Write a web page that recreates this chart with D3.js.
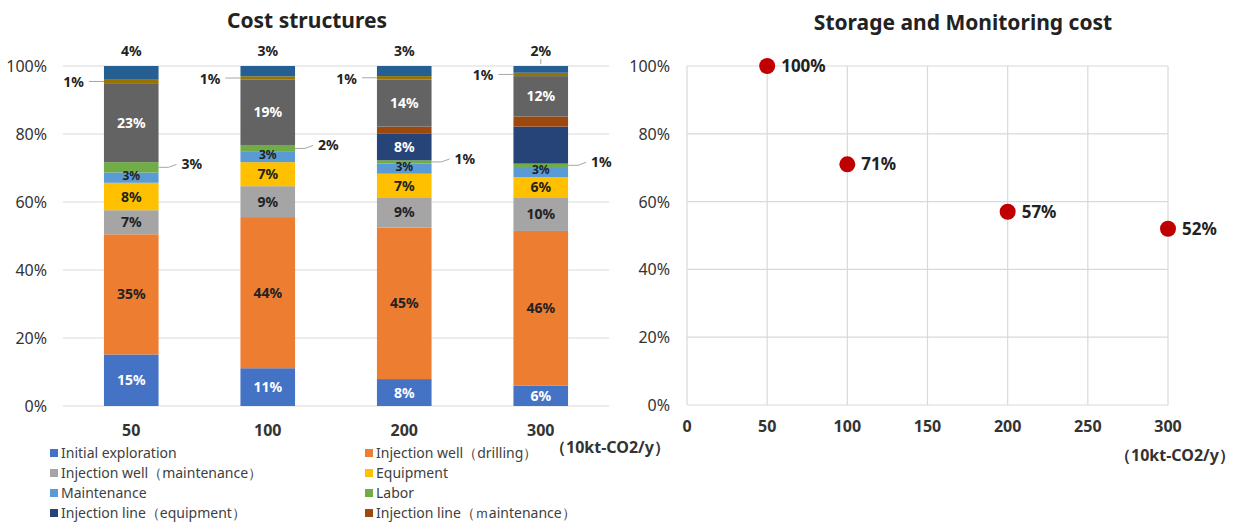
<!DOCTYPE html>
<html>
<head>
<meta charset="utf-8">
<script src="https://cdn.jsdelivr.net/npm/d3@7.9.0/dist/d3.min.js"></script>
<style>
  body { margin: 0; background: #fff; }
  svg { display: block; font-family: "Noto Sans", sans-serif; }
</style>
</head>
<body>
<svg id="chart" width="1242" height="522"></svg>
<script>
// cost structure data (share in %, bottom -> top)
const categories = ['50', '100', '200', '300'];
const seriesNames = [
  'Initial exploration', 'Injection well（drilling）', 'Injection well（maintenance）', 'Equipment',
  'Maintenance', 'Labor', 'Injection line（equipment）', 'Injection line（ｍaintenance）',
  'Other A', 'Other B', 'Other C'
];
const seriesColors = ['#4472C4', '#ED7D31', '#A5A5A5', '#FFC000', '#5B9BD5', '#70AD47',
  '#264478', '#9E480E', '#636363', '#997300', '#255E91'];
const values50 = [15, 35, 7, 8, 3, 3, 0, 0, 23, 1, 4];
const values100 = [11, 44, 9, 7, 3, 2, 0, 0, 19, 1, 3];
const values200 = [8, 45, 9, 7, 3, 1, 8, 2, 14, 1, 3];
const values300 = [6, 46, 10, 6, 3, 1, 11, 3, 12, 1, 2];
const hiddenLabels = [['200', 7], ['300', 6], ['300', 7]];
const legendCount = 8;
const yTicks = [0, 0.2, 0.4, 0.6, 0.8, 1];

// storage and monitoring cost
const scaleX = [50, 100, 200, 300];
const relCost = [100, 71, 57, 52];
const xTicks = [0, 50, 100, 150, 200, 250, 300];

const svg = d3.select('#chart');
const valueRows = [values50, values100, values200, values300];
const rows = categories.map((c, i) => {
  let r = { cat: c };
  seriesNames.forEach((s, j) => { r[j] = valueRows[i][j]; });
  return r;
});

// ---------- left: cost structures ----------
const x = d3.scaleBand().domain(categories).range([63, 609]).paddingInner(0.6).paddingOuter(0.3);
const y = d3.scaleLinear().domain([0, 1]).range([406, 66]);

svg.append('text').attr('x', 307).attr('y', 28).attr('text-anchor', 'middle')
  .attr('font-size', 21).attr('font-weight', 'bold').attr('fill', '#222').text('Cost structures');

svg.append('g').selectAll('line').data(yTicks).join('line')
  .attr('x1', 63).attr('x2', 609).attr('y1', d => y(d)).attr('y2', d => y(d))
  .attr('stroke', '#d9d9d9').attr('stroke-width', 1.2);
svg.append('g').selectAll('text').data(yTicks).join('text')
  .attr('x', 47).attr('y', d => y(d) + 6).attr('text-anchor', 'end')
  .attr('font-size', 16).attr('fill', '#333').text(d3.format('.0%'));
svg.append('g').selectAll('text').data(categories).join('text')
  .attr('x', d => x(d) + x.bandwidth() / 2).attr('y', 436).attr('text-anchor', 'middle')
  .attr('font-size', 16).attr('font-weight', 'bold').attr('fill', '#333').text(d => d);
svg.append('text').attr('x', 550).attr('y', 453).attr('font-size', 16).attr('font-weight', 'bold')
  .attr('fill', '#333').text('（10kt-CO2/y）');

const stack = d3.stack().keys(d3.range(seriesNames.length)).offset(d3.stackOffsetExpand);
const layers = stack(rows);

const bars = svg.append('g');
layers.forEach((layer, j) => {
  bars.append('g').attr('fill', seriesColors[j]).selectAll('rect').data(layer).join('rect')
    .attr('x', d => x(d.data.cat)).attr('width', x.bandwidth())
    .attr('y', d => y(d[1])).attr('height', d => y(d[0]) - y(d[1]));
});

// data labels
const lab = svg.append('g').attr('font-size', 14).attr('font-weight', 'bold');
const whiteText = [0, 6, 8];
layers.forEach((layer, j) => {
  layer.forEach(d => {
    const cat = d.data.cat;
    const v = d.data[j];
    if (v === 0) return;
    if (hiddenLabels.some(h => h[0] === cat && h[1] === j)) return;
    const cx = x(cat) + x.bandwidth() / 2;
    const cy = (y(d[0]) + y(d[1])) / 2;
    const left = x(cat), right = x(cat) + x.bandwidth();
    const txt = v + '%';
    if (j === 10) {
      lab.append('text').attr('x', cx).attr('y', y(1) - 10).attr('text-anchor', 'middle')
        .attr('fill', '#222').text(txt);
      if (cat === '300') {
        lab.append('line').attr('x1', cx).attr('x2', cx).attr('y1', y(1) - 7).attr('y2', y(1) - 2)
          .attr('stroke', '#a6a6a6');
      }
    } else if (j === 9) {
      lab.append('line').attr('x1', left - 15).attr('x2', left).attr('y1', cy).attr('y2', cy)
        .attr('stroke', '#a6a6a6');
      lab.append('text').attr('x', left - 20).attr('y', cy + 6).attr('text-anchor', 'end')
        .attr('fill', '#222').text(txt);
    } else if (j === 5) {
      lab.append('polyline').attr('points', `${right},${cy} ${right + 10},${cy} ${right + 18},${cy - 3}`)
        .attr('fill', 'none').attr('stroke', '#a6a6a6');
      lab.append('text').attr('x', right + 23).attr('y', cy + 2).attr('fill', '#222').text(txt);
    } else if (j === 4) {
      // thin maintenance slice: smaller label
      lab.append('text').attr('x', cx).attr('y', cy + 2).attr('text-anchor', 'middle')
        .attr('font-size', 12).attr('fill', '#222').text(txt);
    } else {
      lab.append('text').attr('x', cx).attr('y', cy + 5).attr('text-anchor', 'middle')
        .attr('fill', whiteText.includes(j) ? '#fff' : '#222').text(txt);
    }
  });
});

// legend
const legend = svg.append('g').attr('font-size', 14).attr('fill', '#404040');
seriesNames.slice(0, legendCount).forEach((name, i) => {
  const lx = i % 2 === 0 ? 50 : 365;
  const ly = 453 + Math.floor(i / 2) * 20;
  legend.append('rect').attr('x', lx).attr('y', ly - 4).attr('width', 8).attr('height', 8)
    .attr('fill', seriesColors[i]);
  legend.append('text').attr('x', lx + 11).attr('y', ly + 5).text(name);
});

// ---------- right: storage and monitoring cost ----------
const x2 = d3.scaleLinear().domain([0, 300]).range([687, 1168]);
const y2 = d3.scaleLinear().domain([0, 1]).range([405, 66]);

svg.append('text').attr('x', 963).attr('y', 30).attr('text-anchor', 'middle')
  .attr('font-size', 21).attr('font-weight', 'bold').attr('fill', '#222').text('Storage and Monitoring cost');

const grid2 = svg.append('g').attr('stroke', '#d9d9d9').attr('stroke-width', 1.2);
grid2.selectAll('.h').data(yTicks).join('line').attr('class', 'h')
  .attr('x1', x2(0)).attr('x2', x2(300)).attr('y1', d => y2(d)).attr('y2', d => y2(d));
grid2.selectAll('.v').data(xTicks).join('line').attr('class', 'v')
  .attr('x1', d => x2(d)).attr('x2', d => x2(d)).attr('y1', y2(0)).attr('y2', y2(1));

svg.append('g').selectAll('text').data(yTicks).join('text')
  .attr('x', 670).attr('y', d => y2(d) + 6).attr('text-anchor', 'end')
  .attr('font-size', 16).attr('fill', '#333').text(d3.format('.0%'));
svg.append('g').selectAll('text').data(xTicks).join('text')
  .attr('x', d => x2(d)).attr('y', 432).attr('text-anchor', 'middle')
  .attr('font-size', 16).attr('font-weight', 'bold').attr('fill', '#333').text(d => d);
svg.append('text').attr('x', 1115).attr('y', 461).attr('font-size', 16).attr('font-weight', 'bold')
  .attr('fill', '#333').text('（10kt-CO2/y）');

const pts = scaleX.map((s, i) => ({ s: s, v: relCost[i] / 100 }));
svg.append('g').selectAll('circle').data(pts).join('circle')
  .attr('cx', d => x2(d.s)).attr('cy', d => y2(d.v)).attr('r', 8).attr('fill', '#C00000');
svg.append('g').selectAll('text').data(pts).join('text')
  .attr('x', d => x2(d.s) + 14).attr('y', d => y2(d.v) + 6)
  .attr('font-size', 17).attr('font-weight', 'bold').attr('fill', '#222')
  .text(d => Math.round(d.v * 100) + '%');
</script>
</body>
</html>
